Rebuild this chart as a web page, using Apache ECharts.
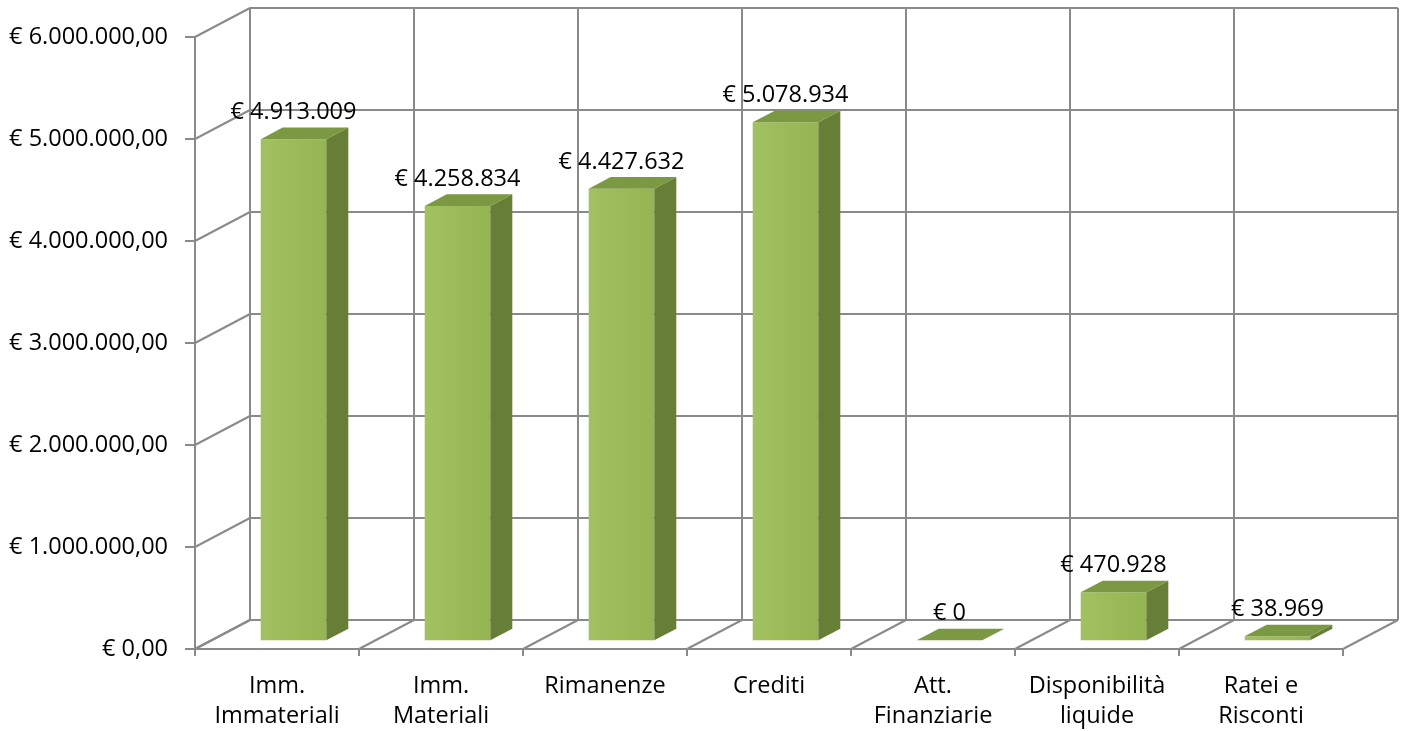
<!DOCTYPE html>
<html>
<head>
<meta charset="utf-8">
<script src="https://cdn.jsdelivr.net/npm/echarts@6/dist/echarts.min.js"></script>
<style>
html,body{margin:0;padding:0;background:#fff;}
#chart{width:1409px;height:731px;}
</style>
</head>
<body>
<div id="chart"></div>
<script>
// ---- data ----
const categories = ["Imm.\nImmateriali", "Imm.\nMateriali", "Rimanenze", "Crediti", "Att.\nFinanziarie", "Disponibilità\nliquide", "Ratei e\nRisconti"];
const values = [4913009, 4258834, 4427632, 5078934, 0, 470928, 38969];
const yTicks = [0, 1000000, 2000000, 3000000, 4000000, 5000000, 6000000];

// ---- style constants ----
const DX = 55, DY = -29;          // depth offset of back wall
const FRONT = 0.3, DEPTH = 0.4;   // bar depth position
const FONT = '"Open Sans", sans-serif';
const FS = 23.5;
const GRID = '#8a8a8a';
const LW = 2;

function fmt(n) { return String(n).replace(/\B(?=(\d{3})+(?!\d))/g, '.'); }

const chart = echarts.init(document.getElementById('chart'), null, {renderer: 'canvas'});

function frameRender(params, api) {
  const cs = params.coordSys;
  const children = [];
  const left = cs.x, right = cs.x + cs.width;
  const y0 = api.coord([0, 0])[1];
  const yMax = api.coord([0, yTicks[yTicks.length - 1]])[1];
  const ls = {stroke: GRID, lineWidth: LW};
  yTicks.forEach(function (t) {
    const y = api.coord([0, t])[1];
    children.push({type: 'line', shape: {x1: left, y1: y, x2: left + DX, y2: y + DY}, style: ls});
    children.push({type: 'line', shape: {x1: left + DX, y1: y + DY, x2: right + DX, y2: y + DY}, style: ls});
  });
  const n = categories.length;
  const bw = cs.width / n;
  for (let i = 0; i <= n; i++) {
    const x = left + i * bw;
    children.push({type: 'line', shape: {x1: x, y1: y0, x2: x + DX, y2: y0 + DY}, style: ls});
    children.push({type: 'line', shape: {x1: x + DX, y1: y0 + DY, x2: x + DX, y2: yMax + DY}, style: ls});
  }
  return {type: 'group', children: children};
}

function barRender(params, api) {
  const i = api.value(0), v = api.value(1);
  const c0 = api.coord([i, 0]);
  const c1 = api.coord([i, v]);
  const band = api.size([1, 0])[0];
  const w = band / 2.5;
  const x0 = c0[0] - w / 2 + FRONT * DX;
  const x1 = x0 + w;
  const yb = c0[1] + FRONT * DY;
  const yt = c1[1] + FRONT * DY;
  const ddx = DEPTH * DX, ddy = DEPTH * DY;
  const children = [];
  if (yb - yt > 0.5) {
    children.push({type: 'rect', shape: {x: x0, y: yt, width: w, height: yb - yt},
      style: {fill: new echarts.graphic.LinearGradient(0, 0, 1, 0, [{offset: 0, color: '#a2c160'}, {offset: 0.5, color: '#9bbb59'}, {offset: 1, color: '#95b553'}])}});
    children.push({type: 'polygon', shape: {points: [[x1, yb], [x1, yt], [x1 + ddx, yt + ddy], [x1 + ddx, yb + ddy]]},
      style: {fill: '#677e37'}});
  }
  children.push({type: 'polygon', shape: {points: [[x0, yt], [x1, yt], [x1 + ddx, yt + ddy], [x0 + ddx, yt + ddy]]},
    style: {fill: '#7b9842'}});
  children.push({type: 'text', style: {text: '€ ' + fmt(v), x: x0 + w / 2, y: yt + ddy - 15,
    align: 'center', verticalAlign: 'middle', fill: '#000', fontSize: FS, fontFamily: FONT}});
  return {type: 'group', children: children};
}

const option = {
  animation: false,
  backgroundColor: '#fff',
  grid: {left: 195, right: 66, top: 37, bottom: 81, containLabel: false},
  xAxis: {
    type: 'category',
    data: categories,
    boundaryGap: true,
    axisLine: {show: true, lineStyle: {color: GRID, width: LW}},
    axisTick: {show: true, length: 7, lineStyle: {color: GRID, width: LW}},
    axisLabel: {color: '#000', fontSize: FS, fontFamily: FONT, lineHeight: 30, margin: 22, interval: 0},
    splitLine: {show: false}
  },
  yAxis: {
    type: 'value',
    min: 0, max: 6000000, interval: 1000000,
    axisLine: {show: true, lineStyle: {color: GRID, width: LW}},
    axisTick: {show: true, length: 10, lineStyle: {color: GRID, width: LW}},
    axisLabel: {color: '#000', fontSize: FS, fontFamily: FONT, margin: 27, padding: [3, 0, 0, 0],
      formatter: function (v) { return '€ ' + fmt(v) + ',00'; }},
    splitLine: {show: false}
  },
  series: [
    {type: 'custom', name: 'frame', renderItem: frameRender, data: [[0, 0]], z: 1, silent: true},
    {type: 'custom', name: 'Attivo', renderItem: barRender, data: values.map(function (v, i) { return [i, v]; }), z: 2}
  ]
};
chart.setOption(option);
</script>
</body>
</html>
